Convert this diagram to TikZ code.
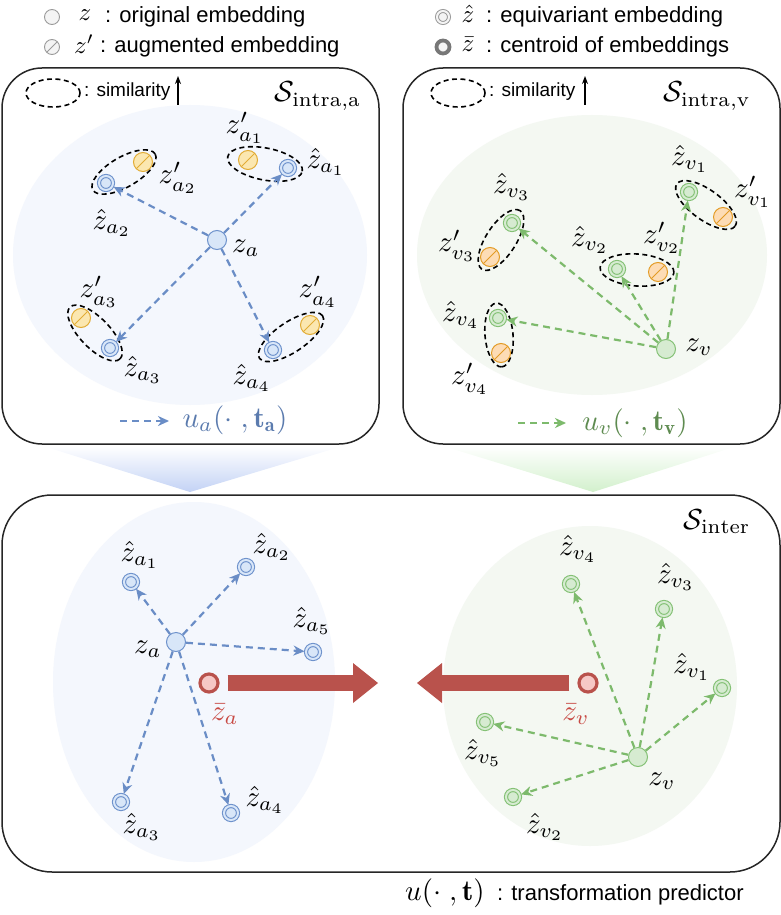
\documentclass[tikz,border=0pt]{standalone}
\usepackage{graphicx}
\usepackage{fontspec}
\newfontfamily\sansfnt{Liberation Sans}
\usetikzlibrary{arrows.meta,shapes.geometric}
\newcommand\mlb[1]{\scalebox{2.9}{$#1$}}
\newcommand\mlg[1]{\scalebox{2.5}{$#1$}}
\definecolor{bstroke}{HTML}{6E92CC}
\definecolor{bfill}{HTML}{D8E6F8}
\definecolor{barrow}{HTML}{6A8DC6}
\definecolor{btext}{HTML}{5B7BAE}
\definecolor{bbg}{HTML}{F4F7FD}
\definecolor{gstroke}{HTML}{84C175}
\definecolor{gfill}{HTML}{D6EBD1}
\definecolor{garrow}{HTML}{7DBA6C}
\definecolor{gtext}{HTML}{5E8B50}
\definecolor{gbg}{HTML}{F4F8F2}
\definecolor{ystroke}{HTML}{E2AC35}
\definecolor{yfill}{HTML}{FBE7B0}
\definecolor{ostroke}{HTML}{E39B25}
\definecolor{ofill}{HTML}{FDDCB5}
\definecolor{rstroke}{HTML}{B9524C}
\definecolor{rfill}{HTML}{F6C8C6}
\definecolor{rtext}{HTML}{C84A44}
\definecolor{gray1}{HTML}{9A9A9A}
\definecolor{gray2}{HTML}{777777}
\definecolor{grayfill}{HTML}{F4F4F4}
\definecolor{funblue}{HTML}{C3D2F5}
\definecolor{fungreen}{HTML}{D2F0CC}
\tikzset{
  panel/.style={draw=black!85, line width=1.5pt, rounded corners=40pt, fill=white},
  plainn/.style={circle, inner sep=0pt, minimum size=19pt, line width=1pt},
  hatn/.style={circle, inner sep=0pt, minimum size=14pt, line width=1.1pt, double distance=2pt},
  augn/.style={circle, inner sep=0pt, minimum size=19pt, line width=1pt, draw=#1,
    path picture={\draw[#1, line width=1pt] (path picture bounding box.south west) -- (path picture bounding box.north east);}},
  bplain/.style={plainn, draw=bstroke, fill=bfill},
  gplain/.style={plainn, draw=gstroke, fill=gfill},
  bhat/.style={hatn, draw=bstroke, double=bfill, fill=bfill},
  ghat/.style={hatn, draw=gstroke, double=gfill, fill=gfill},
  yaug/.style={augn=ystroke, fill=yfill},
  oaug/.style={augn=ostroke, fill=ofill},
  cent/.style={circle, inner sep=0pt, minimum size=18pt, line width=3.2pt, draw=rstroke, fill=rfill},
  mlab/.style={inner sep=0pt},
  legtxt/.style={font=\sansfnt\fontsize{22}{24}\selectfont, inner sep=0pt, anchor=west},
  simtxt/.style={font=\sansfnt\fontsize{19}{21}\selectfont, inner sep=0pt, anchor=west},
  simell/.style={ellipse, draw=black, dash pattern=on 5pt off 3.5pt, line width=1.6pt, inner sep=0pt},
  dasharr/.style={dash pattern=on 7pt off 5pt, line width=2.2pt, -{Stealth[length=11pt,width=10pt,inset=3.5pt]}, shorten >=1pt},
  barw/.style={dasharr, draw=barrow},
  garw/.style={dasharr, draw=garrow},
  bigarr/.style={draw=rstroke, line width=16pt, -{Triangle[length=25pt,width=40pt,line width=0pt]}},
}
\begin{document}
\begin{tikzpicture}[x=1pt,y=-1pt]
\useasboundingbox (0,0) rectangle (781,915);
% funnels
\shade[top color=white, bottom color=funblue] (43,446) -- (343,446) -- (190,492) -- cycle;
\shade[top color=white, bottom color=fungreen] (443,446) -- (737,446) -- (593,492) -- cycle;
% panels
\draw[panel] (2,68) rectangle (379,444);
\draw[panel] (403,68) rectangle (780,444);
\draw[panel, rounded corners=50pt] (2,495) rectangle (780,872);
% background ellipses
\fill[bbg] (190,255) ellipse [x radius=177, y radius=150];
\fill[gbg] (592,255) ellipse [x radius=175, y radius=140];
\fill[bbg] (194,682) ellipse [x radius=141, y radius=180];
\fill[gbg] (590,686) ellipse [x radius=147, y radius=160];

% legend
\node[plainn, draw=gray1, fill=grayfill, minimum size=15pt, line width=0.9pt] (lg1) at (52,17) {};
\node[mlab] (lz1) at (85,15) {\mlg{z}};
\node[legtxt] (lt1) at (105,17) {: original embedding};
\node[augn=gray1, fill=grayfill, minimum size=15pt, line width=0.9pt] (lg2) at (52,47) {};
\node[mlab] (lz2) at (84,44) {\mlg{z'}};
\node[legtxt] (lt2) at (100,47) {: augmented embedding};
\node[hatn, draw=gray1, double=grayfill, fill=grayfill, minimum size=12pt, line width=1pt, double distance=2pt] (lg3) at (443,17) {};
\node[mlab] (lz3) at (468,14) {\mlg{\hat{z}}};
\node[legtxt] (lt3) at (486,17) {: equivariant embedding};
\node[circle, inner sep=0pt, minimum size=13pt, line width=3.8pt, draw=gray2, fill=grayfill] (lg4) at (443,47) {};
\node[mlab] (lz4) at (468,44) {\mlg{\bar{z}}};
\node[legtxt] (lt4) at (486,47) {: centroid of embeddings};

% ---------- top-left panel ----------
\node[simell, minimum width=54pt, minimum height=28pt] (sl1) at (53,93) {};
\node[simtxt] (st1) at (84,92) {: similarity};
\coordinate (su1) at (178,105); \coordinate (sv1) at (178,76);
\draw[line width=1.5pt, -{Stealth[length=8pt,width=6pt]}] (su1) -- (sv1);
\node[mlab] (sa) at (318,96) {\mlb{\mathcal{S}_{\mathrm{intra,a}}}};

\node[simell, minimum width=76pt, minimum height=32pt, rotate=-11] (e1) at (265,164) {};
\node[simell, minimum width=72pt, minimum height=30pt, rotate=30] (e2) at (124,172) {};
\node[simell, minimum width=72pt, minimum height=30pt, rotate=-46] (e3) at (95,333) {};
\node[simell, minimum width=76pt, minimum height=30pt, rotate=34] (e4) at (291,337) {};

\node[bplain] (za) at (217,240) {};
\node[bhat] (ha1) at (288,168) {};
\node[yaug] (pa1) at (248,160) {};
\node[bhat] (ha2) at (106,183) {};
\node[yaug] (pa2) at (143,162) {};
\node[bhat] (ha3) at (110,348) {};
\node[yaug] (pa3) at (81,318) {};
\node[bhat] (ha4) at (273,350) {};
\node[yaug] (pa4) at (310,325) {};
\foreach \t in {ha1,ha2,ha3,ha4} \draw[barw] (za) -- (\t);

\node[mlab] (lza) at (246,248) {\mlb{z_a}};
\node[mlab] (lha1) at (326,162) {\mlb{\hat{z}_{a_1}}};
\node[mlab] (lpa1) at (245,128) {\mlb{z'_{a_1}}};
\node[mlab] (lpa2) at (178,178) {\mlb{z'_{a_2}}};
\node[mlab] (lha2) at (112,223) {\mlb{\hat{z}_{a_2}}};
\node[mlab] (lpa3) at (99,292) {\mlb{z'_{a_3}}};
\node[mlab] (lha3) at (143,370) {\mlb{\hat{z}_{a_3}}};
\node[mlab] (lpa4) at (318,292) {\mlb{z'_{a_4}}};
\node[mlab] (lha4) at (252,378) {\mlb{\hat{z}_{a_4}}};

\coordinate (ua0) at (120,421); \coordinate (ua1) at (170,421);
\draw[barw] (ua0) -- (ua1);
\node[mlab, text=btext] (ual) at (235,420) {\mlb{u_a(\cdot\;,\mathbf{t_a})}};

% ---------- top-right panel ----------
\node[simell, minimum width=54pt, minimum height=28pt] (sl2) at (458,93) {};
\node[simtxt] (st2) at (489,92) {: similarity};
\coordinate (su2) at (585,105); \coordinate (sv2) at (585,76);
\draw[line width=1.5pt, -{Stealth[length=8pt,width=6pt]}] (su2) -- (sv2);
\node[mlab] (sv) at (707,96) {\mlb{\mathcal{S}_{\mathrm{intra,v}}}};

\node[simell, minimum width=72pt, minimum height=30pt, rotate=-36] (f1) at (706,205) {};
\node[simell, minimum width=70pt, minimum height=30pt, rotate=57] (f3) at (501,240) {};
\node[simell, minimum width=74pt, minimum height=32pt, rotate=-4] (f2) at (637,270) {};
\node[simell, minimum width=64pt, minimum height=28pt, rotate=-85] (f4) at (499,335) {};

\node[gplain] (zv) at (666,349) {};
\node[ghat] (hv1) at (689,192) {};
\node[oaug] (pv1) at (723,217) {};
\node[ghat] (hv3) at (512,223) {};
\node[oaug] (pv3) at (490,257) {};
\node[ghat] (hv2) at (617,269) {};
\node[oaug] (pv2) at (658,272) {};
\node[ghat] (hv4) at (498,318) {};
\node[oaug] (pv4) at (501,353) {};
\foreach \t in {hv1,hv2,hv3,hv4} \draw[garw] (zv) -- (\t);

\node[mlab] (lzv) at (699,347) {\mlb{z_v}};
\node[mlab] (lhv1) at (690,159) {\mlb{\hat{z}_{v_1}}};
\node[mlab] (lpv1) at (753,192) {\mlb{z'_{v_1}}};
\node[mlab] (lhv3) at (512,187) {\mlb{\hat{z}_{v_3}}};
\node[mlab] (lpv3) at (457,246) {\mlb{z'_{v_3}}};
\node[mlab] (lhv2) at (590,240) {\mlb{\hat{z}_{v_2}}};
\node[mlab] (lpv2) at (662,238) {\mlb{z'_{v_2}}};
\node[mlab] (lhv4) at (461,315) {\mlb{\hat{z}_{v_4}}};
\node[mlab] (lpv4) at (470,379) {\mlb{z'_{v_4}}};

\coordinate (uv0) at (518,423); \coordinate (uv1) at (567,423);
\draw[garw] (uv0) -- (uv1);
\node[mlab, text=gtext] (uvl) at (635,423) {\mlb{u_v(\cdot\;,\mathbf{t_v})}};

% ---------- bottom panel ----------
\node[mlab] (si) at (717,522) {\mlb{\mathcal{S}_{\mathrm{inter}}}};

\node[bplain] (zb) at (176,642) {};
\node[bhat] (hb1) at (131,582) {};
\node[bhat] (hb2) at (246,567) {};
\node[bhat] (hb5) at (313,652) {};
\node[bhat] (hb3) at (121,802) {};
\node[bhat] (hb4) at (231,813) {};
\node[cent] (cba) at (209,683) {};
\foreach \t in {hb1,hb2,hb3,hb4,hb5} \draw[barw] (zb) -- (\t);

\node[mlab] (lzb) at (148,649) {\mlb{z_a}};
\node[mlab] (lhb1) at (140,555) {\mlb{\hat{z}_{a_1}}};
\node[mlab] (lhb2) at (272,547) {\mlb{\hat{z}_{a_2}}};
\node[mlab] (lhb5) at (312,621) {\mlb{\hat{z}_{a_5}}};
\node[mlab] (lhb3) at (142,827) {\mlb{\hat{z}_{a_3}}};
\node[mlab] (lhb4) at (265,800) {\mlb{\hat{z}_{a_4}}};
\node[mlab, text=rtext] (lcba) at (225,714) {\mlb{\bar{z}_a}};

\node[gplain] (zw) at (638,757) {};
\node[ghat] (hw4) at (571,584) {};
\node[ghat] (hw3) at (664,609) {};
\node[ghat] (hw1) at (722,688) {};
\node[ghat] (hw5) at (485,722) {};
\node[ghat] (hw2) at (513,797) {};
\node[cent] (cbv) at (588,683) {};
\foreach \t in {hw1,hw2,hw3,hw4,hw5} \draw[garw] (zw) -- (\t);

\node[mlab] (lzw) at (662,781) {\mlb{z_v}};
\node[mlab] (lhw4) at (578,549) {\mlb{\hat{z}_{v_4}}};
\node[mlab] (lhw3) at (676,577) {\mlb{\hat{z}_{v_3}}};
\node[mlab] (lhw1) at (692,667) {\mlb{\hat{z}_{v_1}}};
\node[mlab] (lhw5) at (483,753) {\mlb{\hat{z}_{v_5}}};
\node[mlab] (lhw2) at (545,827) {\mlb{\hat{z}_{v_2}}};
\node[mlab, text=rtext] (lcbv) at (576,714) {\mlb{\bar{z}_v}};

\coordinate (rat) at (378,683);
\coordinate (lat) at (417,683);
\draw[bigarr] ([xshift=8pt]cba.east) -- (rat);
\draw[bigarr] ([xshift=-8pt]cbv.west) -- (lat);

% caption
\node[mlab, anchor=west] (cap1) at (405,893) {\mlb{u(\cdot\;,\mathbf{t})}};
\node[legtxt] (cap2) at ([xshift=12pt]cap1.east |- 0,895) {: transformation predictor};
\end{tikzpicture}
\end{document}
